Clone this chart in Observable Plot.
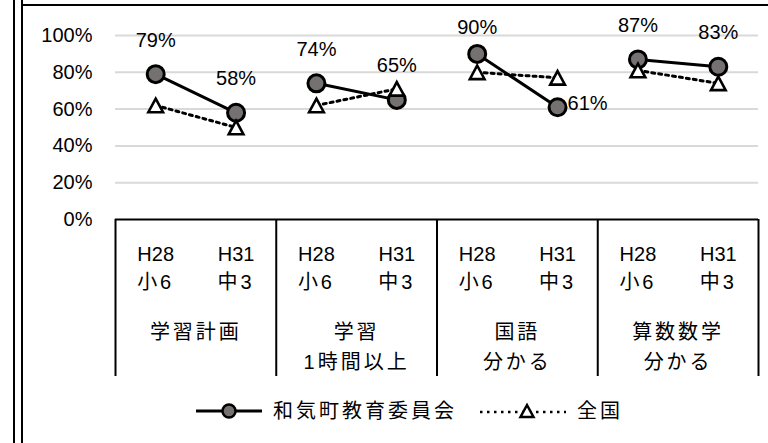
<!DOCTYPE html>
<html><head><meta charset="utf-8">
<script src="https://cdn.jsdelivr.net/npm/d3@7"></script>
<script src="https://cdn.jsdelivr.net/npm/@observablehq/plot@0.6"></script>
<style>
body{margin:0;background:#fff;}
#wrap{position:relative;width:768px;height:443px;overflow:hidden;font-family:"Liberation Sans","Noto Sans CJK JP",sans-serif;color:#000;}
.vline{position:absolute;top:0;bottom:0;width:2px;background:#000;}
#topline{position:absolute;left:21px;right:0;top:4px;height:2px;background:#000;}
#chart{position:absolute;left:0;top:0;}
#legend{position:absolute;left:0;top:392px;width:768px;height:44px;}
#legend svg{position:absolute;}
#legend span{position:absolute;font-size:20px;line-height:24px;letter-spacing:3px;white-space:nowrap;}
</style></head>
<body>
<div id="wrap">
  <div class="vline" style="left:13px"></div>
  <div class="vline" style="left:21px"></div>
  <div id="topline"></div>
  <div id="chart"></div>
  <div id="legend"></div>
</div>
<script>
const groups = ["学習計画", "学習\n1時間以上", "国語\n分かる", "算数数学\n分かる"];
const periods = ["H28\n小6", "H31\n中3"];
const town = [79, 58, 74, 65, 90, 61, 87, 83];
const nation = [62, 50, 62, 71, 80, 77, 81, 74];
const yTicks = [0, 20, 40, 60, 80, 100];
const labelPlace = ["above", "above", "above", "above", "near", "right", "above", "above"];
const seriesNames = ["和気町教育委員会", "全国"];

const W = 768, H = 392, mT = 35, mB = 173, mL = 115, mR = 10;
const font = '"Liberation Sans","Noto Sans CJK JP",sans-serif';

const rows = town.map((v, i) => ({
  i, group: groups[Math.floor(i / 2)], period: periods[i % 2],
  town: v, nation: nation[i], place: labelPlace[i]
}));
const xPos = d => d.i + 0.5;
const bounds = d3.range(0, town.length + 1, 2);
const groupCenters = groups.map((g, k) => ({g, x: k * 2 + 1}));

const tri = {
  draw(ctx, size) {
    const r = Math.sqrt(size / Math.PI);
    ctx.moveTo(0, -r);
    ctx.lineTo(r * 1.08, r);
    ctx.lineTo(-r * 1.08, r);
    ctx.closePath();
  }
};
const pct = d => d.town + "%";

const chart = Plot.plot({
  width: W, height: H,
  marginTop: mT, marginBottom: mB, marginLeft: mL, marginRight: mR,
  style: {fontFamily: font, fontSize: "20px", color: "#000", background: "transparent", overflow: "visible"},
  x: {domain: [0, town.length], axis: null},
  y: {domain: [0, 100], ticks: yTicks, tickFormat: d => d + "%", tickSize: 0, tickPadding: 23, label: null},
  marks: [
    Plot.ruleY(yTicks.filter(t => t > 0), {stroke: "#d9d9d9", strokeWidth: 2}),
    Plot.ruleY([0], {stroke: "#000", strokeWidth: 2}),
    Plot.ruleX(bounds, {stroke: "#000", strokeWidth: 2, insetTop: H - mT - mB, insetBottom: -157}),
    Plot.text(rows, {x: xPos, text: "period", frameAnchor: "bottom", lineAnchor: "middle", dy: 47, lineHeight: 1.4}),
    Plot.text(groupCenters, {x: "x", text: "g", frameAnchor: "bottom", lineAnchor: "top", dy: 98, lineHeight: 1.5}),
    Plot.line(rows, {x: xPos, y: "nation", z: "group", stroke: "#000", strokeWidth: 3, strokeDasharray: "3,4"}),
    Plot.line(rows, {x: xPos, y: "town", z: "group", stroke: "#000", strokeWidth: 3}),
    Plot.dot(rows, {x: xPos, y: "town", r: 8.5, fill: "#767171", stroke: "#000", strokeWidth: 3}),
    Plot.dot(rows, {x: xPos, y: "nation", r: 6.8, symbol: tri, fill: "#fff", stroke: "#000", strokeWidth: 2.6}),
    Plot.text(rows.filter(d => d.place === "above"), {x: xPos, y: "town", text: pct, dy: -34}),
    Plot.text(rows.filter(d => d.place === "near"), {x: xPos, y: "town", text: pct, dy: -26}),
    Plot.text(rows.filter(d => d.place === "right"), {x: xPos, y: "town", text: pct, dx: 30, dy: -4})
  ]
});

// widen CJK glyph pitch to match reference
const cjk = /[\u3000-\u9fff]/;
d3.select(chart).selectAll("text").each(function () {
  const tspans = this.querySelectorAll("tspan");
  if (tspans.length) tspans.forEach(t => { if (cjk.test(t.textContent)) t.setAttribute("letter-spacing", "3"); });
  else if (cjk.test(this.textContent)) this.setAttribute("letter-spacing", "3");
});
document.getElementById("chart").appendChild(chart);

// legend
const lg = d3.select("#legend");
const s1 = lg.append("svg").attr("width", 70).attr("height", 24).style("left", "194px").style("top", "7px");
s1.append("line").attr("x1", 2).attr("x2", 68).attr("y1", 12).attr("y2", 12).attr("stroke", "#000").attr("stroke-width", 3);
s1.append("circle").attr("cx", 35).attr("cy", 12).attr("r", 6.5).attr("fill", "#767171").attr("stroke", "#000").attr("stroke-width", 2.5);
lg.append("span").text(seriesNames[0]).style("left", "273px").style("top", "7px");
const s2 = lg.append("svg").attr("width", 90).attr("height", 24).style("left", "478px").style("top", "7px");
s2.append("line").attr("x1", 2).attr("x2", 88).attr("y1", 13).attr("y2", 13).attr("stroke", "#000").attr("stroke-width", 2.5).attr("stroke-dasharray", "2.5,4.5");
s2.append("path").attr("d", "M49,6L55.5,18L42.5,18Z").attr("fill", "#fff").attr("stroke", "#000").attr("stroke-width", 2.5);
lg.append("span").text(seriesNames[1]).style("left", "577px").style("top", "7px");
</script>
</body></html>
